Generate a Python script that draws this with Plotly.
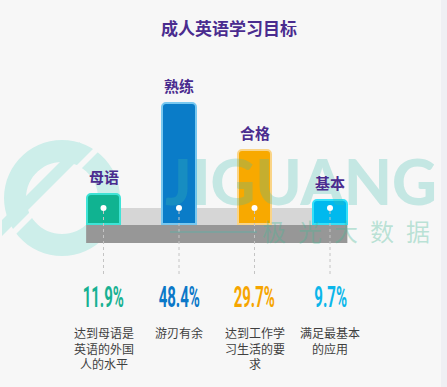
import math
import plotly.graph_objects as go

# ---------------- data ----------------
categories = ["母语", "熟练", "合格", "基本"]
values = [11.9, 48.4, 29.7, 9.7]
descriptions = ["达到母语是<br>英语的外国<br>人的水平", "游刃有余",
                "达到工作学<br>习生活的要<br>求", "满足最基本<br>的应用"]
title_text = "成人英语学习目标"

# ---------------- style ----------------
bar_fill = ["#10b391", "#0a7cc8", "#f8a900", "#00b9ee"]
bar_edge = ["#3fe3d6", "#78c8f0", "#fad487", "#34e0f8"]
pct_color = ["#17b192", "#0b78c8", "#f6a500", "#0bb6ea"]
purple = "#4a2c8f"
WM = "rgba(60,190,175,0.27)"

W, H = 447, 387
PW, PH = 441, 387           # plot area (right strip 6px is paper)
STEP = 75.5                 # px per category
X0PX = 103.5                # px of first category centre
BASE = 224                  # px of value 0
PXU = 2.5                   # px per unit of value

xmin = -X0PX / STEP
xmax = xmin + PW / STEP
ymin = -(PH - BASE) / PXU
ymax = BASE / PXU


def vy(py):
    return (BASE - py) / PXU


def P(px, py):
    return f"{px / PW:.5f},{1 - py / PH:.5f}"


xs = list(range(len(categories)))
BAR_W = 0.44

fig = go.Figure()

# bars
fig.add_trace(go.Bar(
    x=xs, y=values, width=BAR_W,
    marker=dict(color=bar_fill, line=dict(color=bar_edge, width=2), cornerradius=4),
    hoverinfo="skip", showlegend=False,
))

# dotted leader lines
lx, ly = [], []
for i in xs:
    lx += [i, i, None]
    ly += [vy(211), vy(277), None]
fig.add_trace(go.Scatter(x=lx, y=ly, mode="lines",
                         line=dict(color="#c4c4c4", width=1, dash="dot"),
                         hoverinfo="skip", showlegend=False))

# white dots
fig.add_trace(go.Scatter(x=xs, y=[vy(208)] * len(xs), mode="markers",
                         marker=dict(color="white", size=6, line=dict(width=0)),
                         hoverinfo="skip", showlegend=False))

shapes = []
# platform
shapes.append(dict(type="rect", xref="x", yref="y", layer="below",
                   x0=xs[0] - BAR_W / 2 - 0.01, x1=xs[-1] + BAR_W / 2 + 0.01,
                   y0=vy(225), y1=vy(208), fillcolor="#d6d6d6", line=dict(width=0)))
shapes.append(dict(type="rect", xref="x", yref="y", layer="below",
                   x0=xs[0] - BAR_W / 2 - 0.01, x1=xs[-1] + BAR_W / 2 + 0.01,
                   y0=vy(243), y1=vy(225), fillcolor="#979797", line=dict(width=0)))

# watermark logo (ring + diagonal band)
cx, cy, R, r = 62, 198, 58, 36
outer = [P(cx + R * math.cos(t / 60 * 2 * math.pi), cy + R * math.sin(t / 60 * 2 * math.pi)) for t in range(60)]
inner = [P(cx + r * math.cos(t / 60 * 2 * math.pi), cy + r * math.sin(t / 60 * 2 * math.pi)) for t in range(59, -1, -1)]
ring = "M " + " L ".join(outer) + " Z M " + " L ".join(inner) + " Z"
shapes.append(dict(type="path", xref="paper", yref="paper", layer="below",
                   path=ring, fillcolor="#cdeeea", line=dict(width=0)))


def band(c, half, xa, xb):
    # band between lines x+y=c-half and x+y=c+half, from x=xa to x=xb
    pts = [(xa, c - half - xa), (xb, c - half - xb), (xb, c + half - xb), (xa, c + half - xa)]
    return "M " + " L ".join(P(a, b) for a, b in pts) + " Z"


shapes.append(dict(type="path", xref="paper", yref="paper", layer="below",
                   path=band(246, 4, -5, 130), fillcolor="#f7f7f7", line=dict(width=0)))
shapes.append(dict(type="path", xref="paper", yref="paper", layer="below",
                   path=band(230, 8, 2, 80), fillcolor="#cdeeea", line=dict(width=0)))
# watermark rule before 极光大数据
shapes.append(dict(type="line", xref="paper", yref="paper", layer="above",
                   x0=170 / PW, x1=257 / PW, y0=1 - 232 / PH, y1=1 - 232 / PH,
                   line=dict(color=WM, width=2)))

annotations = []
# watermark text
annotations.append(dict(xref="paper", yref="paper", x=301 / PW, y=1 - 181 / PH,
                        text="JIGUANG", showarrow=False, xanchor="center", yanchor="middle",
                        font=dict(family="Lato, Roboto, sans-serif", size=62, color=WM, weight=900)))
annotations.append(dict(xref="paper", yref="paper", x=346 / PW, y=1 - 231 / PH,
                        text="极\u2002光\u2002大\u2002数\u2002据", showarrow=False,
                        xanchor="center", yanchor="middle",
                        font=dict(family="Noto Sans CJK SC", size=24, color="rgba(70,185,150,0.35)")))
# title
annotations.append(dict(xref="paper", yref="paper", x=228.5 / PW, y=1 - 27.5 / PH,
                        text=f"<b>{title_text}</b>", showarrow=False, xanchor="center", yanchor="middle",
                        font=dict(family="Noto Sans CJK SC", size=17, color=purple)))
for i, (c, v, d) in enumerate(zip(categories, values, descriptions)):
    annotations.append(dict(x=i, y=v, xref="x", yref="y", text=f"<b>{c}</b>", showarrow=False,
                            xanchor="center", yanchor="bottom", yshift=5,
                            font=dict(family="Noto Sans CJK SC", size=15, color=purple)))
    annotations.append(dict(x=i, y=vy(296), xref="x", yref="y", text=f"<b>{v}%</b>", showarrow=False,
                            xanchor="center", yanchor="middle",
                            font=dict(family="Roboto, sans-serif", size=30, color=pct_color[i])))
    annotations.append(dict(x=i, y=vy(322), xref="x", yref="y", text=d, showarrow=False,
                            xanchor="center", yanchor="top", align="center",
                            font=dict(family="Noto Sans CJK SC", size=12, color="#3f3f3f")))

fig.update_layout(
    width=W, height=H,
    margin=dict(l=0, r=W - PW, t=0, b=0, pad=0),
    paper_bgcolor="#efeff3", plot_bgcolor="#f7f7f7",
    xaxis=dict(range=[xmin, xmax], visible=False, fixedrange=True),
    yaxis=dict(range=[ymin, ymax], visible=False, fixedrange=True),
    shapes=shapes, annotations=annotations,
    showlegend=False, bargap=0,
)

# condense the percentage labels horizontally (the original uses a very narrow display face)
post = """
document.body.style.margin='0';
(function(){
  var gd = document.getElementById('{plot_id}');
  function squeeze(){
    var ts = gd.querySelectorAll('text.annotation-text');
    ts.forEach(function(t){
      if (/%$/.test(t.textContent.trim())) {
        t.removeAttribute('transform');
        var b = t.getBBox();
        var cx = b.x + b.width/2;
        t.setAttribute('transform', 'translate(' + cx + ',0) scale(0.5,1) translate(' + (-cx) + ',0)');
      }
    });
  }
  squeeze();
  if (gd.on) { gd.on('plotly_afterplot', squeeze); }
  setTimeout(squeeze, 50);
})();
"""

fig.write_html("out.html", config={"displayModeBar": False}, post_script=post)
